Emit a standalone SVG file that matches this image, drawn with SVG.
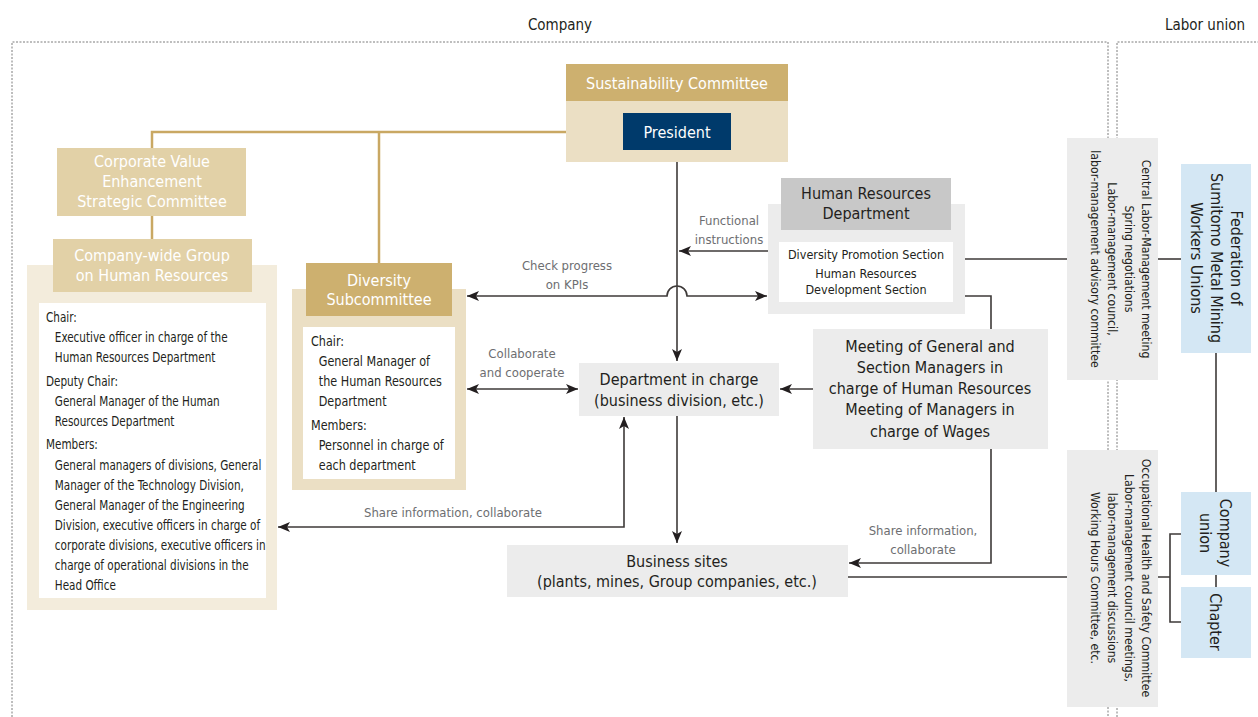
<svg xmlns="http://www.w3.org/2000/svg" width="1258" height="717" viewBox="0 0 1258 717">
  <defs>
    <marker id="arr" viewBox="0 0 12 10" refX="12" refY="5" markerWidth="12" markerHeight="10" markerUnits="userSpaceOnUse" orient="auto-start-reverse">
      <path d="M0,0 L12,5 L0,10 L3,5 Z" fill="#231f20"/>
    </marker>
    <style>
      text { font-family: "Liberation Sans Narrow", "DejaVu Sans Condensed", "Liberation Sans", sans-serif; }
      .t16 { font-size: 16px; text-anchor: middle; }
      .w { fill: #ffffff; }
      .d { fill: #231f20; }
      .body { font-size: 14.5px; fill: #231f20; }
      .lab { font-size: 13px; fill: #6d6e71; text-anchor: middle; }
      .sm { font-size: 12.5px; fill: #231f20; text-anchor: middle; }
      .vt { font-size: 12.2px; fill: #231f20; text-anchor: middle; }
      .gold { fill: #cdb06f; }
      .beige { fill: #ebdfc4; }
      .pale { fill: #f3ecdc; }
      .sand { fill: #e2d1a7; }
      .grey { fill: #ececec; }
      .blue { fill: #d4e7f4; }
      .ln { fill: none; stroke: #3e3a39; stroke-width: 1.6; }
      .gl { fill: none; stroke: #c9a863; stroke-width: 2.5; }
      .dash { fill: none; stroke: #7d7d7d; stroke-width: 1; stroke-dasharray: 2 1.5; }
    </style>
  </defs>

  <!-- area frames -->
  <g id="frames">
    <text x="560" y="30" class="t16 d" style="font-size:15px">Company</text>
    <text x="1205" y="30" class="t16 d" style="font-size:15px">Labor union</text>
    <path class="dash" d="M12,717 V42 H1108 V717"/>
    <path class="dash" d="M1117,717 V42 H1258"/>
  </g>

  <!-- connectors -->
  <g id="connectors">
    <path class="gl" d="M566,132 H152 V148"/>
    <path class="gl" d="M379,132 V263"/>
    <path class="gl" d="M152,216 V239"/>
    <path class="ln" d="M677,150 V361" marker-end="url(#arr)"/>
    <path class="ln" d="M677,416 V543" marker-end="url(#arr)"/>
    <path class="ln" d="M768,251 H679" marker-end="url(#arr)"/>
    <path class="ln" d="M467,296 H667 A10,10 0 0 1 687,296 H767" marker-start="url(#arr)" marker-end="url(#arr)"/>
    <path class="ln" d="M467,389 H578" marker-start="url(#arr)" marker-end="url(#arr)"/>
    <path class="ln" d="M813,389 H780" marker-end="url(#arr)"/>
    <path class="ln" d="M624,417 V527 H278" marker-start="url(#arr)" marker-end="url(#arr)"/>
    <path class="ln" d="M965,296 H991 V329"/>
    <path class="ln" d="M991,449 V563 H849" marker-end="url(#arr)"/>
    <path class="ln" d="M953,259 H1067"/>
    <path class="ln" d="M1158,259 H1181"/>
    <path class="ln" d="M848,577 H1067"/>
    <path class="ln" d="M1158,577 H1170 M1181,534 H1170 V622 H1181"/>
    <path class="ln" d="M1216,353 V492"/>
    <path class="ln" d="M1216,575 V587"/>
    <text class="lab" x="729" y="225">Functional</text>
    <text class="lab" x="729" y="244">instructions</text>
    <text class="lab" x="567" y="270">Check progress</text>
    <text class="lab" x="567" y="289">on KPIs</text>
    <text class="lab" x="522" y="358">Collaborate</text>
    <text class="lab" x="522" y="377">and cooperate</text>
    <text class="lab" x="453" y="517">Share information, collaborate</text>
    <text class="lab" x="923" y="535">Share information,</text>
    <text class="lab" x="923" y="554">collaborate</text>
  </g>

  <!-- Sustainability Committee / President -->
  <g id="sustainability">
    <rect class="beige" x="566" y="101" width="222" height="61"/>
    <rect class="gold" x="566" y="64" width="222" height="37"/>
    <text class="t16 w" x="677" y="89">Sustainability Committee</text>
  </g>
  <g id="president">
    <rect x="623" y="113" width="108" height="37" fill="#003a6b"/>
    <text class="t16 w" x="677" y="138">President</text>
  </g>

  <!-- Corporate Value Enhancement Strategic Committee -->
  <g id="corporate-value">
    <rect class="sand" x="57" y="148" width="189" height="68"/>
    <text class="t16 w" x="152" y="167">Corporate Value</text>
    <text class="t16 w" x="152" y="187">Enhancement</text>
    <text class="t16 w" x="152" y="207">Strategic Committee</text>
  </g>

  <!-- Company-wide Group on Human Resources -->
  <g id="company-wide-group">
    <rect class="pale" x="27" y="265" width="250" height="345"/>
    <rect class="sand" x="53" y="239" width="199" height="53"/>
    <text class="t16 w" x="152" y="261">Company-wide Group</text>
    <text class="t16 w" x="152" y="281">on Human Resources</text>
    <rect fill="#ffffff" x="39" y="303" width="227" height="295"/>
    <g transform="translate(46,0) scale(0.8,1)">
      <text class="body" x="0" y="322">Chair:</text>
      <text class="body" x="11" y="342">Executive officer in charge of the</text>
      <text class="body" x="11" y="362">Human Resources Department</text>
      <text class="body" x="0" y="386">Deputy Chair:</text>
      <text class="body" x="11" y="406">General Manager of the Human</text>
      <text class="body" x="11" y="426">Resources Department</text>
      <text class="body" x="0" y="449">Members:</text>
      <text class="body" x="11" y="470">General managers of divisions, General</text>
      <text class="body" x="11" y="490">Manager of the Technology Division,</text>
      <text class="body" x="11" y="510">General Manager of the Engineering</text>
      <text class="body" x="11" y="530">Division, executive officers in charge of</text>
      <text class="body" x="11" y="550">corporate divisions, executive officers in</text>
      <text class="body" x="11" y="570">charge of operational divisions in the</text>
      <text class="body" x="11" y="590">Head Office</text>
    </g>
  </g>

  <!-- Diversity Subcommittee -->
  <g id="diversity-subcommittee">
    <rect class="beige" x="292" y="289" width="174" height="201"/>
    <rect class="gold" x="306" y="263" width="146" height="53"/>
    <text class="t16 w" x="379" y="286">Diversity</text>
    <text class="t16 w" x="379" y="305">Subcommittee</text>
    <rect fill="#ffffff" x="303" y="327" width="152" height="152"/>
    <g transform="translate(311,0) scale(0.86,1)">
      <text class="body" x="0" y="346">Chair:</text>
      <text class="body" x="9" y="366">General Manager of</text>
      <text class="body" x="9" y="386">the Human Resources</text>
      <text class="body" x="9" y="406">Department</text>
      <text class="body" x="0" y="430">Members:</text>
      <text class="body" x="9" y="450">Personnel in charge of</text>
      <text class="body" x="9" y="470">each department</text>
    </g>
  </g>

  <!-- Human Resources Department -->
  <g id="hr-department">
    <rect class="grey" x="768" y="204" width="197" height="110"/>
    <rect fill="#c8c8c8" x="781" y="178" width="170" height="52"/>
    <text class="t16 d" x="866" y="199">Human Resources</text>
    <text class="t16 d" x="866" y="219">Department</text>
    <rect fill="#ffffff" x="779" y="242" width="174" height="60"/>
    <text class="sm" x="866" y="259">Diversity Promotion Section</text>
    <text class="sm" x="866" y="278">Human Resources</text>
    <text class="sm" x="866" y="294">Development Section</text>
  </g>

  <!-- Department in charge -->
  <g id="department-in-charge">
    <rect class="grey" x="579" y="363" width="200" height="53"/>
    <text class="t16 d" x="679" y="385">Department in charge</text>
    <text class="t16 d" x="679" y="406">(business division, etc.)</text>
  </g>

  <!-- Meetings -->
  <g id="meetings">
    <rect class="grey" x="813" y="329" width="235" height="120"/>
    <text class="t16 d" x="930" y="352">Meeting of General and</text>
    <text class="t16 d" x="930" y="373">Section Managers in</text>
    <text class="t16 d" x="930" y="394">charge of Human Resources</text>
    <text class="t16 d" x="930" y="415">Meeting of Managers in</text>
    <text class="t16 d" x="930" y="437">charge of Wages</text>
  </g>

  <!-- Business sites -->
  <g id="business-sites">
    <rect class="grey" x="507" y="545" width="341" height="52"/>
    <text class="t16 d" x="677" y="567">Business sites</text>
    <text class="t16 d" x="677" y="587">(plants, mines, Group companies, etc.)</text>
  </g>

  <!-- Central labor-management meetings -->
  <g id="central-meetings">
    <rect class="grey" x="1067" y="138" width="91" height="242"/>
    <g transform="translate(1138,259) rotate(90)">
      <text class="vt" x="0" y="-4">Central Labor-Management meeting</text>
      <text class="vt" x="0" y="13">Spring negotiations</text>
      <text class="vt" x="0" y="30">Labor-management council,</text>
      <text class="vt" x="0" y="47">labor-management advisory committee</text>
    </g>
  </g>

  <!-- Occupational health and safety meetings -->
  <g id="occupational-meetings">
    <rect class="grey" x="1067" y="450" width="91" height="257"/>
    <g transform="translate(1138,578) rotate(90)">
      <text class="vt" x="0" y="-4">Occupational Health and Safety Committee</text>
      <text class="vt" x="0" y="13">Labor-management council meetings,</text>
      <text class="vt" x="0" y="30">labor-management discussions</text>
      <text class="vt" x="0" y="47">Working Hours Committee, etc.</text>
    </g>
  </g>

  <!-- Federation of unions -->
  <g id="federation">
    <rect class="blue" x="1181" y="164" width="70" height="189"/>
    <g transform="translate(1216,258) rotate(90)">
      <text class="t16 d" x="0" y="-15">Federation of</text>
      <text class="t16 d" x="0" y="5">Sumitomo Metal Mining</text>
      <text class="t16 d" x="0" y="25">Workers Unions</text>
    </g>
  </g>

  <!-- Company union -->
  <g id="company-union">
    <rect class="blue" x="1181" y="492" width="70" height="83"/>
    <g transform="translate(1216,533) rotate(90)">
      <text class="t16 d" x="0" y="-4">Company</text>
      <text class="t16 d" x="0" y="16">union</text>
    </g>
  </g>

  <!-- Chapter -->
  <g id="chapter">
    <rect class="blue" x="1181" y="587" width="70" height="71"/>
    <g transform="translate(1216,622) rotate(90)">
      <text class="t16 d" x="0" y="6">Chapter</text>
    </g>
  </g>
</svg>
